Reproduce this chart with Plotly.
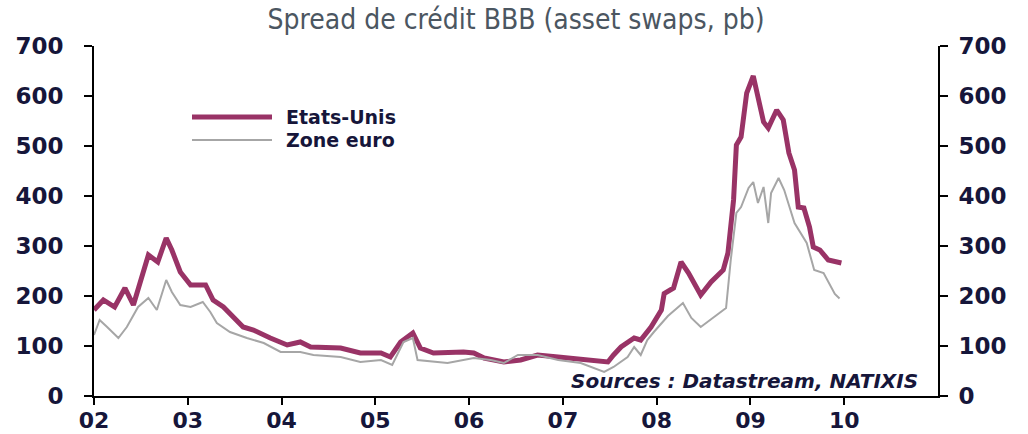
import plotly.graph_objects as go

# Data (decimal years, basis points)
us_years = [2002.00, 2002.10, 2002.22, 2002.33, 2002.42, 2002.58, 2002.68, 2002.77, 2002.83, 2002.92,
            2003.03, 2003.19, 2003.27, 2003.38, 2003.59, 2003.70, 2003.88, 2004.06, 2004.20, 2004.31,
            2004.63, 2004.84, 2005.06, 2005.16, 2005.27, 2005.40, 2005.48, 2005.62, 2005.94, 2006.05,
            2006.16, 2006.37, 2006.55, 2006.73, 2006.95, 2007.09, 2007.27, 2007.48, 2007.54, 2007.62,
            2007.76, 2007.83, 2007.94, 2008.05, 2008.08, 2008.18, 2008.26, 2008.34, 2008.47, 2008.58,
            2008.71, 2008.76, 2008.82, 2008.85, 2008.90, 2008.96, 2009.03, 2009.08, 2009.14, 2009.19,
            2009.28, 2009.35, 2009.41, 2009.47, 2009.51, 2009.57, 2009.63, 2009.67, 2009.74, 2009.83,
            2009.97]
us_values = [172, 192, 178, 216, 182, 282, 268, 316, 292, 248,
             222, 222, 192, 178, 138, 132, 116, 102, 108, 98,
             96, 86, 86, 78, 108, 126, 96, 86, 88, 86,
             76, 68, 72, 82, 78, 76, 72, 68, 82, 98,
             116, 112, 138, 172, 205, 216, 268, 246, 202, 228,
             252, 286, 392, 502, 518, 606, 640, 598, 548, 536,
             572, 552, 486, 452, 378, 376, 338, 298, 292, 272,
             266]

eu_years = [2002.00, 2002.06, 2002.14, 2002.26, 2002.35, 2002.47, 2002.58, 2002.67, 2002.77, 2002.83,
            2002.92, 2003.03, 2003.16, 2003.24, 2003.31, 2003.45, 2003.63, 2003.81, 2003.99, 2004.20,
            2004.34, 2004.63, 2004.84, 2005.06, 2005.18, 2005.30, 2005.40, 2005.45, 2005.77, 2006.05,
            2006.23, 2006.37, 2006.52, 2006.73, 2006.95, 2007.19, 2007.44, 2007.54, 2007.69, 2007.76,
            2007.83, 2007.90, 2007.97, 2008.12, 2008.28, 2008.37, 2008.47, 2008.60, 2008.74, 2008.79,
            2008.85, 2008.90, 2008.98, 2009.03, 2009.08, 2009.14, 2009.19, 2009.22, 2009.30, 2009.36,
            2009.47, 2009.60, 2009.68, 2009.78, 2009.90, 2009.95]
eu_values = [122, 152, 138, 116, 138, 178, 196, 172, 232, 208,
             182, 178, 188, 168, 146, 128, 116, 106, 88, 88,
             82, 78, 68, 72, 62, 108, 116, 72, 66, 76,
             72, 66, 82, 82, 72, 66, 48, 58, 78, 98,
             82, 112, 128, 160, 186, 156, 138, 156, 176, 272,
             366, 378, 416, 428, 386, 418, 346, 406, 436, 412,
             346, 306, 252, 246, 204, 195]

tick_years = [2002, 2003, 2004, 2005, 2006, 2007, 2008, 2009, 2010]
tick_labels = ["02", "03", "04", "05", "06", "07", "08", "09", "10"]
y_ticks = [0, 100, 200, 300, 400, 500, 600, 700]

US_COLOR = "#993366"
EU_COLOR = "#a6a6a6"
LABEL_COLOR = "#16163a"
TICK_FONT = dict(family="DejaVu Sans", size=23, color=LABEL_COLOR, weight="bold")
XTICK_FONT = dict(family="DejaVu Sans", size=22, color=LABEL_COLOR, weight="bold")

fig = go.Figure()
# Zone euro plotted against the right axis (same scale) so that axis is drawn
fig.add_trace(go.Scatter(x=eu_years, y=eu_values, mode="lines", name="Zone euro",
                         line=dict(color=EU_COLOR, width=2), yaxis="y2"))
fig.add_trace(go.Scatter(x=us_years, y=us_values, mode="lines", name="Etats-Unis",
                         line=dict(color=US_COLOR, width=5)))

axis_common = dict(showline=True, linecolor="black", linewidth=2, ticks="outside",
                   tickcolor="black", tickwidth=2, showgrid=False, zeroline=False,
                   automargin=False)

fig.update_layout(
    width=1028, height=434,
    margin=dict(l=94, r=90, t=46, b=38),
    paper_bgcolor="white", plot_bgcolor="white",
    showlegend=False,
    title=dict(text="Spread de crédit BBB (asset swaps, pb)",
               font=dict(family="Liberation Sans Narrow, DejaVu Sans Condensed, Arial Narrow",
                         size=28, color="#4b5661"),
               x=0.5, xref="paper", xanchor="center", y=0.955, yanchor="middle"),
    xaxis=dict(range=[2002, 2011], tickvals=tick_years, ticktext=tick_labels,
               ticklen=7, tickfont=XTICK_FONT, ticklabelstandoff=-3, **axis_common),
    yaxis=dict(range=[0, 700], tickvals=y_ticks, ticklen=8, tickfont=TICK_FONT,
               ticklabelstandoff=16, **axis_common),
    yaxis2=dict(range=[0, 700], tickvals=y_ticks, ticklen=8, tickfont=TICK_FONT,
                overlaying="y", side="right", anchor="x", ticklabelstandoff=6,
                **axis_common),
)

# Legend drawn manually to match the long line samples
legend_items = [("Etats-Unis", US_COLOR, 5, 117), ("Zone euro", EU_COLOR, 2, 140)]
for name, color, width, ypix in legend_items:
    yp = 1 - (ypix - 46) / 350
    x0 = (192 - 94) / 844
    x1 = (272 - 94) / 844
    fig.add_shape(type="line", xref="paper", yref="paper", x0=x0, x1=x1, y0=yp, y1=yp,
                  line=dict(color=color, width=width))
    fig.add_annotation(text=name, xref="paper", yref="paper", x=(284 - 94) / 844, y=yp,
                       xanchor="left", yanchor="middle", showarrow=False,
                       font=dict(family="DejaVu Sans", size=19, color=LABEL_COLOR, weight="bold"))

fig.add_annotation(text="<i>Sources : Datastream, NATIXIS</i>", xref="paper", yref="paper",
                   x=(920 - 94) / 844, y=1 - (381 - 46) / 350, xanchor="right", yanchor="middle",
                   showarrow=False,
                   font=dict(family="DejaVu Sans", size=20, color=LABEL_COLOR, weight="bold"))

# Remove the default page margin so the figure sits at the window's top-left corner
fig.write_html("out.html", config={"displayModeBar": False},
               post_script="document.body.style.margin='0';")
